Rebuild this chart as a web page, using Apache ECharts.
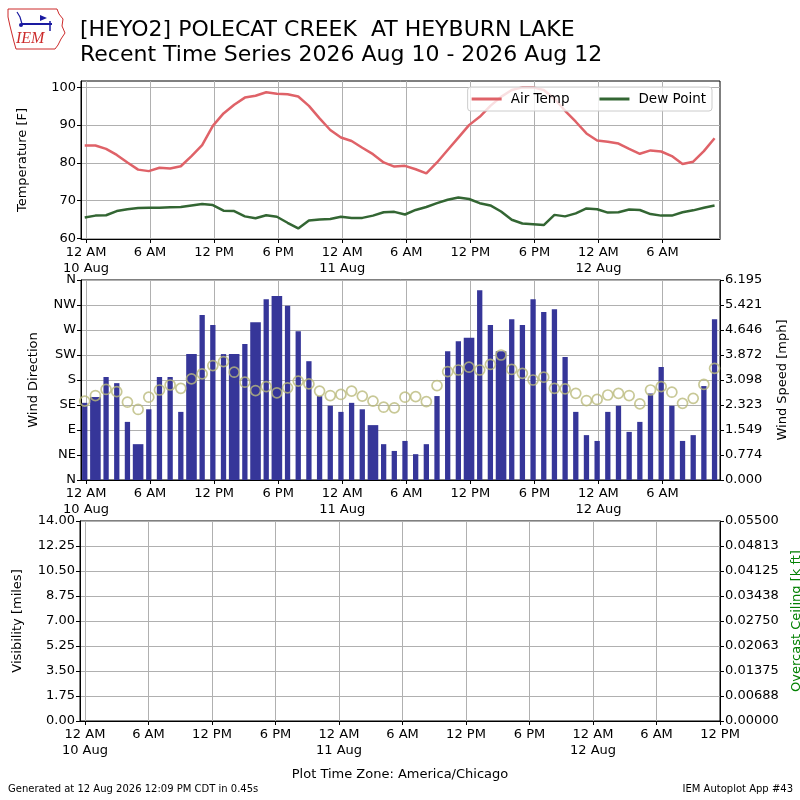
<!DOCTYPE html>
<html><head><meta charset="utf-8">
<script src="https://cdn.jsdelivr.net/npm/echarts@6/dist/echarts.min.js"></script>
<style>html,body{margin:0;padding:0;background:#fff}#c{width:800px;height:800px}</style>
</head><body><div id="c"></div>
<script>
// ---------------- data ----------------
const titleLine1 = '[HEYO2] POLECAT CREEK  AT HEYBURN LAKE';
const titleLine2 = 'Recent Time Series 2026 Aug 10 - 2026 Aug 12';
const firstObsHour = -0.12;   // hours after 10 Aug 00:00 local of first report (hourly reports)
const airTemp = [84.6,84.6,83.7,82.1,80.1,78.2,77.8,78.7,78.5,79.1,81.8,84.7,89.8,93.1,95.4,97.3,97.8,98.7,98.3,98.2,
  97.6,95.1,91.8,88.7,86.7,85.8,84.0,82.3,80.1,79.0,79.2,78.3,77.2,80.1,83.4,86.7,90.0,92.2,95.1,97.5,
  99.3,100.0,100.0,99.3,97.0,93.8,90.9,87.8,85.9,85.6,85.1,83.7,82.4,83.3,83.0,81.8,79.7,80.3,83.1,86.5];
const dewPoint = [65.5,66.0,66.1,67.2,67.7,68.0,68.1,68.1,68.2,68.3,68.7,69.1,68.8,67.3,67.2,65.8,65.3,66.1,65.7,64.1,
  62.6,64.7,65.0,65.1,65.7,65.4,65.4,66.0,66.9,67.0,66.3,67.5,68.3,69.3,70.2,70.8,70.4,69.3,68.7,67.1,
  64.9,63.9,63.7,63.5,66.2,65.8,66.6,67.9,67.7,66.8,66.9,67.6,67.5,66.4,66.0,66.0,66.9,67.4,68.1,68.7];
const windSpeed = [2.39,2.57,3.19,3.00,1.80,1.11,2.19,3.19,3.19,2.11,3.90,5.11,4.80,3.90,3.90,4.21,4.89,5.60,5.70,5.40,
  4.61,3.68,2.60,2.30,2.11,2.39,2.19,1.70,1.11,0.90,1.21,0.80,1.11,2.60,3.99,4.30,4.41,5.88,4.80,3.99,
  4.98,4.80,5.60,5.20,5.29,3.81,2.11,1.39,1.21,2.11,2.30,1.49,1.80,2.68,3.50,2.30,1.21,1.39,2.91,4.98];
const windDir = [142,152,163,159,140,127,149,162,171,165,182,191,206,213,194,176,161,168,157,166,
  178,173,160,152,154,160,151,142,131,130,149,150,141,170,195,198,203,198,208,225,
  199,192,180,185,165,164,156,143,145,153,156,152,137,162,168,158,138,147,172,201];
const doubleReportIdx = [1,5,10,14,16,18,27,36,39]; // hours with two reports (wider bar)
const dirLabels = ['N','NE','E','SE','S','SW','W','NW','N'];
const tempTicks = [60,70,80,90,100];
const speedTicks = ['0.000','0.774','1.549','2.323','3.098','3.872','4.646','5.421','6.195'];
const visTicks = ['0.00','1.75','3.50','5.25','7.00','8.75','10.50','12.25','14.00'];
const ceilTicks = ['0.00000','0.00688','0.01375','0.02063','0.02750','0.03438','0.04125','0.04813','0.05500'];
const hourTicksTop = [0,6,12,18,24,30,36,42,48,54];
const hourTicksBottom = [0,6,12,18,24,30,36,42,48,54,60];
const legendNames = ['Air Temp','Dew Point'];

// ---------------- build ----------------
const FONT = 'DejaVu Sans';
const obsHour = airTemp.map((_, i) => firstObsHour + i);
const tempSeries = airTemp.map((v, i) => [obsHour[i], v]);
const dewSeries = dewPoint.map((v, i) => [obsHour[i], v]);
const normalBars = [], wideBars = [];
windSpeed.forEach((v, i) => {
  (doubleReportIdx.includes(i) ? wideBars : normalBars).push([obsHour[i], v]);
});
const dirSeries = windDir.map((v, i) => [obsHour[i], v]);

function hourLabel(h) {
  const hd = ((h % 24) + 24) % 24;
  const day = 10 + Math.floor(h / 24);
  let s = hd === 0 ? '12 AM' : hd === 6 ? '6 AM' : hd === 12 ? '12 PM' : '6 PM';
  if (hd === 0) s += '\n' + day + ' Aug';
  return s;
}
const gridLine = {show: true, lineStyle: {color: '#b0b0b0', width: 1}};
const blackLine = {show: true, onZero: false, lineStyle: {color: '#000', width: 1}};
function xAx(gridIndex, min, max, ticks, show) {
  return {type: 'value', gridIndex, min, max, show,
    axisLine: blackLine,
    axisTick: {show: true, customValues: ticks, length: 4, lineStyle: {color: '#000'}},
    axisLabel: {customValues: ticks, formatter: hourLabel, color: '#000', fontSize: 13,
      fontFamily: FONT, margin: 6, lineHeight: 16},
    splitLine: gridLine};
}
const nameStyle = {color: '#000', fontSize: 13, fontFamily: FONT};
const lblStyle = {color: '#000', fontSize: 13, fontFamily: FONT};
const topMin = -0.47, topMax = 59.39;
const gridBase = {show: true, borderColor: '#000', borderWidth: 1, backgroundColor: 'transparent',
  outerBoundsMode: 'none', containLabel: false};

const option = {
  animation: false,
  backgroundColor: '#fff',
  title: {text: titleLine1 + '\n' + titleLine2, left: 80, top: 18, padding: 0,
    textStyle: {fontFamily: FONT, fontSize: 22, fontWeight: 'normal', color: '#000', lineHeight: 25}},
  legend: {data: legendNames, right: 88, top: 87, icon: 'rect', itemWidth: 30, itemHeight: 3,
    itemGap: 30, backgroundColor: 'rgba(255,255,255,0.8)', borderColor: '#cccccc', borderWidth: 1,
    borderRadius: 3, padding: [5, 6, 5, 4],
    textStyle: {fontFamily: FONT, fontSize: 13.5, color: '#000', padding: [0, 0, 0, 4]}},
  grid: [
    {...gridBase, left: 81, width: 639, top: 81, height: 158},
    {...gridBase, left: 81, width: 639, top: 280, height: 200},
    {...gridBase, left: 80, width: 640, top: 521, height: 200}
  ],
  xAxis: [
    xAx(0, topMin, topMax, hourTicksTop, true),
    xAx(1, topMin, topMax, hourTicksTop, true),
    xAx(2, topMin, 60, hourTicksBottom, true),
    {type: 'value', gridIndex: 1, min: topMin, max: topMax, show: false}
  ],
  yAxis: [
    {type: 'value', gridIndex: 0, min: 59.8, max: 101.7, name: 'Temperature [F]', nameLocation: 'middle',
      nameGap: 52, nameTextStyle: nameStyle, axisLine: blackLine,
      axisTick: {show: true, customValues: tempTicks, length: 4, lineStyle: {color: '#000'}},
      axisLabel: {customValues: tempTicks, ...lblStyle, margin: 5}, splitLine: gridLine},
    {type: 'value', gridIndex: 1, min: 0, max: 360, interval: 45, name: 'Wind Direction', nameLocation: 'middle',
      nameGap: 41, nameTextStyle: nameStyle, axisLine: blackLine,
      axisTick: {show: true, length: 4, lineStyle: {color: '#000'}},
      axisLabel: {...lblStyle, margin: 5, formatter: v => dirLabels[Math.round(v / 45)]}, splitLine: gridLine},
    {type: 'value', gridIndex: 1, position: 'right', min: 0, max: 6.195, interval: 6.195 / 8,
      name: 'Wind Speed [mph]', nameLocation: 'middle', nameGap: 56, nameTextStyle: nameStyle,
      axisLine: blackLine, axisTick: {show: true, length: 4, lineStyle: {color: '#000'}},
      axisLabel: {...lblStyle, margin: 5, formatter: v => speedTicks[Math.round(v / (6.195 / 8))]},
      splitLine: {show: false}},
    {type: 'value', gridIndex: 2, min: 0, max: 14, interval: 1.75, name: 'Visibility [miles]', nameLocation: 'middle',
      nameGap: 56, nameTextStyle: nameStyle, axisLine: blackLine,
      axisTick: {show: true, length: 4, lineStyle: {color: '#000'}},
      axisLabel: {...lblStyle, margin: 5, formatter: v => visTicks[Math.round(v / 1.75)]}, splitLine: gridLine},
    {type: 'value', gridIndex: 2, position: 'right', min: 0, max: 0.055, interval: 0.055 / 8,
      name: 'Overcast Ceiling [k ft]', nameLocation: 'middle', nameGap: 70,
      nameTextStyle: {...nameStyle, color: '#008000'}, axisLine: blackLine,
      axisTick: {show: true, length: 4, lineStyle: {color: '#000'}},
      axisLabel: {...lblStyle, margin: 5, formatter: v => ceilTicks[Math.round(v / (0.055 / 8))]},
      splitLine: {show: false}}
  ],
  series: [
    {name: 'Air Temp', type: 'line', xAxisIndex: 0, yAxisIndex: 0, data: tempSeries, showSymbol: false,
      lineStyle: {color: '#df6268', width: 2.5}, itemStyle: {color: '#df6268'}, z: 3},
    {name: 'Dew Point', type: 'line', xAxisIndex: 0, yAxisIndex: 0, data: dewSeries, showSymbol: false,
      lineStyle: {color: '#336633', width: 2.5}, itemStyle: {color: '#336633'}, z: 3},
    {name: 'speed', type: 'bar', xAxisIndex: 1, yAxisIndex: 2, data: normalBars, barWidth: 5.3,
      itemStyle: {color: '#363699'}, z: 2},
    {name: 'speed2', type: 'bar', xAxisIndex: 3, yAxisIndex: 2, data: wideBars, barWidth: 10.6,
      itemStyle: {color: '#363699'}, z: 2},
    {name: 'dir', type: 'scatter', xAxisIndex: 1, yAxisIndex: 1, data: dirSeries, symbol: 'circle', symbolSize: 10,
      itemStyle: {color: 'rgba(0,0,0,0)', borderColor: '#baba7c', borderWidth: 1.7}, z: 5},
    {name: 'vis', type: 'line', xAxisIndex: 2, yAxisIndex: 3, data: []}
  ],
  graphic: [
    {type: 'polygon', shape: {points: [[8,9],[57,9],[59,14],[63,19],[62,26],[65,33],[61,39],[58,45],[55,49],[16,49],[14,42],[12,34],[10,26],[8,17]]},
      style: {fill: 'none', stroke: '#cc2b2b', lineWidth: 1}},
    {type: 'polyline', shape: {points: [[22,24],[52,24]]}, style: {stroke: '#1a1aa0', lineWidth: 2}},
    {type: 'polyline', shape: {points: [[17,12],[20,17],[22,24]]}, style: {stroke: '#1a1aa0', lineWidth: 1.2, fill: 'none'}},
    {type: 'polygon', shape: {points: [[40,15],[47,18],[40,21]]}, style: {fill: '#1a1aa0'}},
    {type: 'polyline', shape: {points: [[50,21],[50,31]]}, style: {stroke: '#1a1aa0', lineWidth: 1.5}},
    {type: 'circle', shape: {cx: 21, cy: 25, r: 2}, style: {fill: '#1a1aa0'}},
    {type: 'text', left: 16, top: 31, style: {text: 'IEM', fill: '#cc2b2b', font: 'italic 16px "Liberation Serif", serif'}},
    {type: 'text', left: 'center', top: 768, style: {text: 'Plot Time Zone: America/Chicago', fill: '#000', font: '13px "DejaVu Sans"'}},
    {type: 'text', left: 8, top: 784, style: {text: 'Generated at 12 Aug 2026 12:09 PM CDT in 0.45s', fill: '#000', font: '10px "DejaVu Sans"'}},
    {type: 'text', right: 7, top: 784, style: {text: 'IEM Autoplot App #43', fill: '#000', font: '10px "DejaVu Sans"'}}
  ]
};
const chart = echarts.init(document.getElementById('c'), null, {renderer: 'canvas'});
chart.setOption(option);
</script></body></html>
